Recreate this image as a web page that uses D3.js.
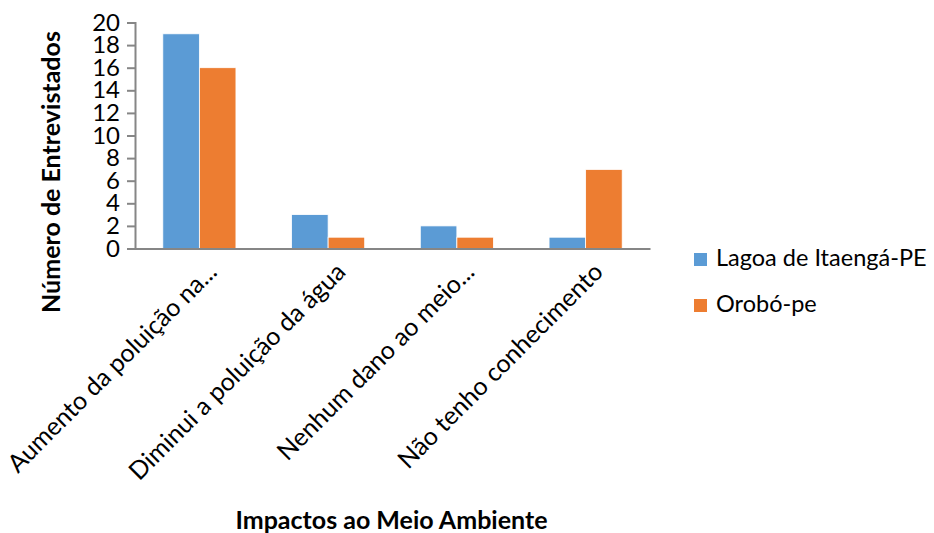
<!DOCTYPE html>
<html>
<head>
<meta charset="utf-8">
<script src="https://cdn.jsdelivr.net/npm/d3@7"></script>
<style>
  body { margin: 0; padding: 0; background: #fff; }
  svg { display: block; font-family: Lato, 'Open Sans', sans-serif; }
</style>
</head>
<body>
<div id="main"></div>
<script>
const categories = ['Aumento da poluição na...', 'Diminui a poluição da água', 'Nenhum dano ao meio...', 'Não tenho conhecimento'];
const seriesNames = ['Lagoa de Itaengá-PE', 'Orobó-pe'];
const lagoaValues = [19, 3, 2, 1];
const oroboValues = [16, 1, 1, 7];
const yTicks = [0, 2, 4, 6, 8, 10, 12, 14, 16, 18, 20];
const colours = ['#5B9BD5', '#ED7D31'];

const WIDTH = 934, HEIGHT = 533;
const PLOT = {left: 135, right: 650, top: 22.5, bottom: 248.5};
const FONTSIZE = 25;

const rows = categories.map((c, i) => ({category: c, values: [lagoaValues[i], oroboValues[i]]}));

const svg = d3.select('#main').append('svg').attr('width', WIDTH).attr('height', HEIGHT);

const scaleX = d3.scaleBand().domain(categories).range([PLOT.left, PLOT.right]).padding(0);
const BW = scaleX.bandwidth();
const scaleSeries = d3.scaleBand().domain(seriesNames).range([27.8, BW - 27.8]).padding(0);
const scaleY = d3.scaleLinear().domain([0, 20]).range([PLOT.bottom, PLOT.top]);

// bars
const groups = svg.append('g').selectAll('g').data(rows).enter().append('g')
    .attr('transform', (d) => `translate(${scaleX(d.category)}, 0)`);
groups.selectAll('rect')
    .data((d) => d.values.map((v, i) => ({series: seriesNames[i], value: v, colour: colours[i]})))
    .enter().append('rect')
    .attr('x', (d) => scaleSeries(d.series))
    .attr('y', (d) => scaleY(d.value))
    .attr('width', scaleSeries.bandwidth())
    .attr('height', (d) => scaleY(0) - scaleY(d.value))
    .attr('fill', (d) => d.colour)
    .attr('stroke', '#fff')
    .attr('stroke-width', 0.8);

// y axis
const axisY = d3.axisLeft(scaleY).tickValues(yTicks).tickSize(8).tickPadding(7);
const gy = svg.append('g').attr('transform', `translate(${PLOT.left}, 0)`).call(axisY);
gy.select('.domain').attr('stroke', '#868686').attr('stroke-width', 2);
gy.selectAll('.tick line').attr('stroke', '#868686').attr('stroke-width', 2);
gy.selectAll('.tick text').attr('font-size', 24).attr('font-family', 'Lato, sans-serif').attr('fill', '#000');

// x axis
const axisX = d3.axisBottom(scaleX).tickSize(0).tickSizeOuter(0);
const gx = svg.append('g').attr('transform', `translate(0, ${PLOT.bottom})`).call(axisX);
gx.select('.domain').attr('stroke', '#868686').attr('stroke-width', 2);
gx.selectAll('.tick text')
    .attr('font-size', FONTSIZE)
    .attr('font-family', 'Lato, sans-serif')
    .attr('fill', '#000')
    .attr('text-anchor', 'end')
    .attr('x', 19)
    .attr('y', 25)
    .attr('dy', 0)
    .attr('transform', 'rotate(-45, 19, 25)');

// axis titles
svg.append('text')
    .attr('transform', 'translate(60, 172) rotate(-90)')
    .attr('text-anchor', 'middle')
    .attr('font-size', FONTSIZE)
    .attr('font-weight', 'bold')
    .text('Número de Entrevistados');
svg.append('text')
    .attr('x', (PLOT.left + PLOT.right) / 2 - 1)
    .attr('y', 529)
    .attr('text-anchor', 'middle')
    .attr('font-size', FONTSIZE)
    .attr('font-weight', 'bold')
    .text('Impactos ao Meio Ambiente');

// legend
const legend = svg.append('g').attr('transform', 'translate(694, 253)');
const items = legend.selectAll('g').data(seriesNames).enter().append('g')
    .attr('transform', (d, i) => `translate(0, ${i * 46})`);
items.append('rect').attr('width', 13).attr('height', 13).attr('fill', (d, i) => colours[i]);
items.append('text').attr('x', 22).attr('y', 13).attr('font-size', 23.5).text((d) => d);
</script>
</body>
</html>
